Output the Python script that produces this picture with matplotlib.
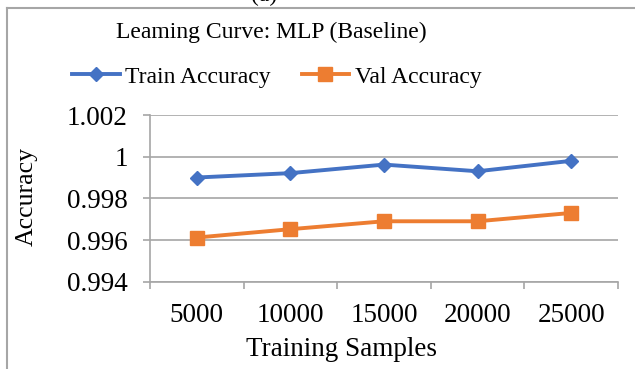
import matplotlib.pyplot as plt
from matplotlib.lines import Line2D

# Learning curve data (accuracy per training set size)
samples = ['5000', '10000', '15000', '20000', '25000']
train_acc = [0.9990, 0.99921, 0.99962, 0.99930, 0.99980]
val_acc = [0.99612, 0.99652, 0.99690, 0.99690, 0.99730]
yticks = [0.994, 0.996, 0.998, 1.0, 1.002]
ytick_labels = ['0.994', '0.996', '0.998', '1', '1.002']

W, H = 635, 369
plt.rcParams['font.family'] = ['Liberation Serif', 'DejaVu Serif']
fs_tick = 19.5
fs_head = 17
grid_col = '#a6a6a6'

fig = plt.figure(figsize=(W / 100, H / 100), dpi=100)
ax = fig.add_axes([150 / W, 1 - 281.7 / H, (618 - 150) / W, (281.7 - 115) / H])

x = list(range(len(samples)))
ax.plot(x, train_acc, color='#4472C4', lw=2.8, marker='D', ms=7, label='Train Accuracy')
ax.plot(x, val_acc, color='#ED7D31', lw=2.8, marker='s', ms=10, label='Val Accuracy')

ax.set_xlim(-0.5, len(samples) - 0.5)
ax.set_ylim(0.994, 1.002)
ax.set_yticks(yticks)
ax.set_yticklabels(ytick_labels, fontsize=fs_tick)
ax.yaxis.grid(True, color=grid_col, lw=1.2)
ax.set_axisbelow(True)

# category ticks sit between the categories, labels at the centres
ax.set_xticks([i - 0.5 for i in range(len(samples) + 1)])
ax.set_xticklabels([])
ax.set_xticks(x, minor=True)
ax.set_xticklabels(samples, minor=True, fontsize=fs_tick)
ax.tick_params(axis='x', which='major', length=5, width=1.2, color=grid_col)
ax.tick_params(axis='x', which='minor', length=0, pad=15)
ax.tick_params(axis='y', length=5, width=1.2, color=grid_col, pad=11)

for s in ['top', 'right']:
    ax.spines[s].set_visible(False)
for s in ['left', 'bottom']:
    ax.spines[s].set_color(grid_col)
    ax.spines[s].set_linewidth(1.2)

fig.text(271 / W, 1 - 32 / H, 'Leaming Curve: MLP (Baseline)', fontsize=fs_head,
         ha='center', va='center')
fig.text(342 / W, 1 - 349 / H, 'Training Samples', fontsize=19.5, ha='center', va='center')
fig.text(27 / W, 1 - 196 / H, 'Accuracy', fontsize=18.5, rotation=90, ha='center', va='center')
fig.text(264 / W, 1 - 6 / H, '(a)', fontsize=fs_head, ha='center', va='bottom')

leg = fig.legend(loc='center', bbox_to_anchor=(277 / W, 1 - 77 / H), ncol=2, frameon=False,
                 fontsize=fs_head, handlelength=2.0, handletextpad=0.25, columnspacing=1.3,
                 borderaxespad=0)

# outer chart frame (left and top edges)
fig.add_artist(Line2D([6.5 / W, 6.5 / W], [0, 1 - 7.5 / H], color=grid_col, lw=1.5))
fig.add_artist(Line2D([6.5 / W, 1], [1 - 7.5 / H, 1 - 7.5 / H], color=grid_col, lw=1.5))

fig.savefig('out.png', dpi=100)
